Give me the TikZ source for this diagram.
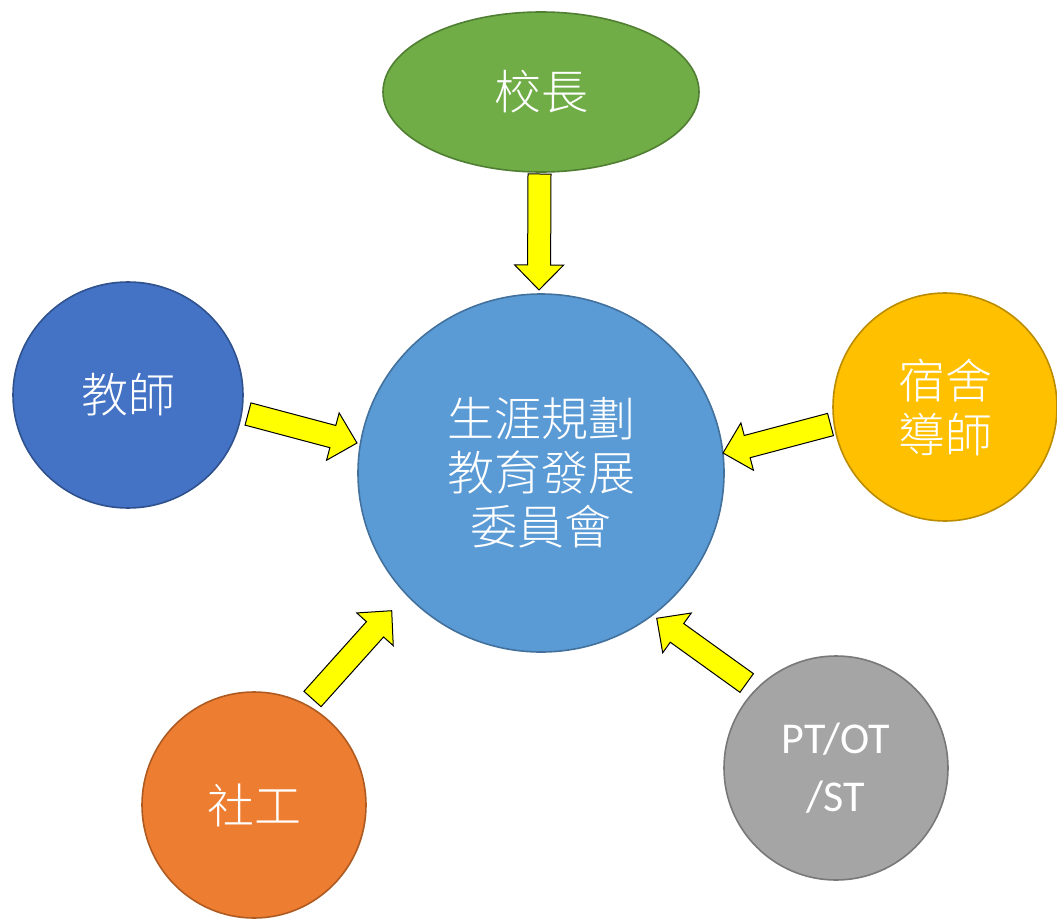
\documentclass[tikz,border=0pt]{standalone}
\usepackage{fontspec}
\setmainfont{Carlito}
\newfontfamily\cjk{Noto Sans CJK TC}[UprightFont={* Light}]
\usetikzlibrary{shapes.geometric,calc}
\definecolor{cgreen}{HTML}{70AD47}
\definecolor{cgreenb}{HTML}{507E32}
\definecolor{cblue}{HTML}{5B9BD5}
\definecolor{cblueb}{HTML}{41719C}
\definecolor{cdblue}{HTML}{4472C4}
\definecolor{cdblueb}{HTML}{2F528F}
\definecolor{cgold}{HTML}{FFC000}
\definecolor{cgoldb}{HTML}{BC8C00}
\definecolor{corange}{HTML}{ED7D31}
\definecolor{corangeb}{HTML}{AE5A21}
\definecolor{cgray}{HTML}{A5A5A5}
\definecolor{cgrayb}{HTML}{787878}
\definecolor{ayellow}{HTML}{FFFF00}
\tikzset{
  bubble/.style={ellipse, inner sep=0pt, line width=1.6pt, text=white, align=center},
  cjktext/.style={font=\cjk\fontsize{47}{54}\selectfont},
  latintext/.style={font=\fontsize{44}{58}\selectfont},
  yblock/.style={draw=black, line width=1pt, fill=ayellow},
}
\newcommand\yarrow[2]{%
  \draw[yblock] ($(#1)!11.5pt!90:(#2)$)
    -- ($($(#2)!25pt!(#1)$)!11.5pt!90:(#2)$)
    -- ($($(#2)!25pt!(#1)$)!24.5pt!90:(#2)$)
    -- (#2)
    -- ($($(#2)!25pt!(#1)$)!24.5pt!-90:(#2)$)
    -- ($($(#2)!25pt!(#1)$)!11.5pt!-90:(#2)$)
    -- ($(#1)!11.5pt!-90:(#2)$) -- cycle;}
\begin{document}
\begin{tikzpicture}[x=1pt,y=-1pt]
\useasboundingbox (0,0) rectangle (1057,920);
% nodes
\node[bubble, cjktext, fill=cgreen, draw=cgreenb, minimum width=316pt, minimum height=160pt] (principal) at (541,92) {校長};
\node[bubble, cjktext, fill=cblue, draw=cblueb, minimum width=366pt, minimum height=358pt] (committee) at (541,473) {生涯規劃\\教育發展\\委員會};
\node[bubble, cjktext, fill=cdblue, draw=cdblueb, minimum width=230pt, minimum height=226pt] (teacher) at (128,395) {教師};
\node[bubble, cjktext, fill=cgold, draw=cgoldb, minimum width=224pt, minimum height=228pt] (dorm) at (945,407) {宿舍\\導師};
\node[bubble, cjktext, fill=corange, draw=corangeb, minimum width=224pt, minimum height=226pt] (social) at (254,805) {社工};
\node[bubble, latintext, fill=cgray, draw=cgrayb, minimum width=224pt, minimum height=224pt] (therapy) at (836,768) {PT/OT\\/ST};
% arrow ends
\coordinate (aTop1) at (539.5,174);  \coordinate (aTop2) at (539,290);
\coordinate (aL1) at (248,414);      \coordinate (aL2) at (357,443);
\coordinate (aR1) at (830.5,424.5);  \coordinate (aR2) at (723,453);
\coordinate (aBL1) at (312.5,699);   \coordinate (aBL2) at (391.7,610.7);
\coordinate (aBR1) at (746.7,683);   \coordinate (aBR2) at (656.7,618.3);
\yarrow{aTop1}{aTop2}
\yarrow{aL1}{aL2}
\yarrow{aR1}{aR2}
\yarrow{aBL1}{aBL2}
\yarrow{aBR1}{aBR2}
\end{tikzpicture}
\end{document}
